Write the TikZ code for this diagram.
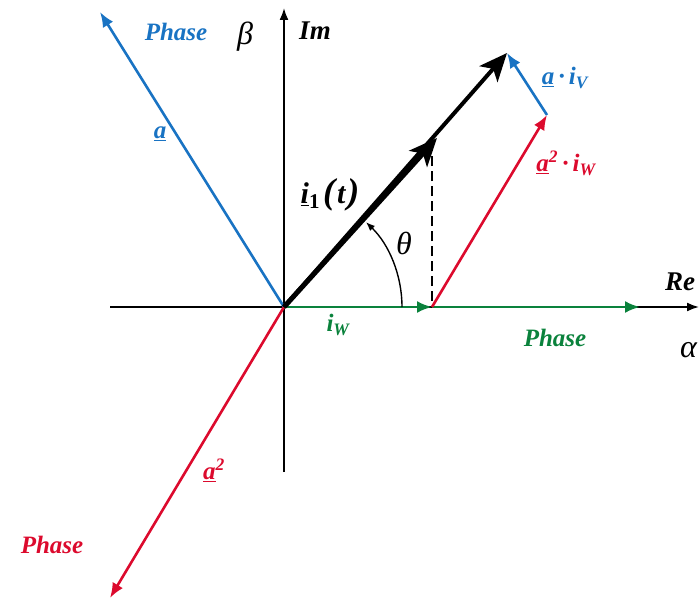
\documentclass[tikz,border=0pt]{standalone}
\usepackage{fontspec}
\setmainfont{Liberation Serif}
\usetikzlibrary{arrows.meta}
\definecolor{pblue}{RGB}{25,115,195}
\definecolor{pred}{RGB}{220,10,45}
\definecolor{pgreen}{RGB}{10,130,60}
\tikzset{
  lbl/.style={font=\fontsize{25}{27}\selectfont\bfseries\itshape, inner sep=1pt},
  glbl/.style={font=\fontsize{32}{34}\selectfont\itshape, inner sep=1pt},
  axis/.style={line width=1.8pt, -{Latex[length=12pt,width=9pt]}},
  phase/.style={line width=2.6pt, -{Latex[length=15pt,width=12pt]}},
  res/.style={line width=5pt, -{Stealth[length=28pt,width=24pt,inset=7pt]}},
}
\begin{document}
\begin{tikzpicture}[x=1pt,y=-1pt]
\useasboundingbox (0,0) rectangle (699,602);
\coordinate (O) at (284,307);
\coordinate (xl) at (110,307);
\coordinate (xr) at (699,307);
\coordinate (yb) at (284,472);
\coordinate (yt) at (284,8);
\coordinate (B) at (100,12);
\coordinate (R) at (110,598);
\coordinate (W) at (432,307);
\coordinate (G) at (640,307);
\coordinate (M) at (437,138);
\coordinate (T) at (507,53);
\coordinate (RT) at (547,115);
\coordinate (Wb) at (432,301);
\coordinate (Mb) at (432,150);
% axes
\draw[axis] (xl) -- (xr);
\draw[axis] (yb) -- (yt);
% phases
\draw[phase, pblue] (O) -- (B);
\draw[phase, pred] (O) -- (R);
\draw[phase, pgreen] (O) -- (W);
\draw[phase, pgreen] (W) -- (G);
% dashed projection
\draw[line width=2.4pt, dash pattern=on 10pt off 5pt] (Wb) -- (Mb);
% resultant
\draw[res, line width=4pt] (O) -- (T);
\draw[res] (O) -- (M);
% components
\draw[phase, pred] (W) -- (RT);
\draw[phase, pblue] (RT) -- (T);
% angle
\draw[line width=1.4pt, -{Latex[length=9pt,width=7pt]}] (402,307) arc[start angle=0, end angle=-46, radius=118];
% labels
\node[lbl, pblue] (pb) at (176,32) {Phase};
\node[glbl] (beta) at (245,37) {β};
\node[lbl, font=\fontsize{27}{29}\selectfont\bfseries\itshape] (im) at (315,31) {Im};
\node[lbl, pblue] (a1) at (160,134) {\underline{a}};
\node[lbl, font=\fontsize{30}{32}\selectfont\bfseries\itshape] (i1) at (330,195) {\underline{i}\textsubscript{\upshape 1}\hspace{3pt}{\fontsize{36}{38}\selectfont(}\hspace{2pt}t\hspace{2pt}{\fontsize{36}{38}\selectfont)}};
\node[glbl] (th) at (404,243) {θ};
\node[lbl, pblue] (ai) at (565,78) {\underline{a}\,·\,i\textsubscript{V}};
\node[lbl, pred] (a2i) at (566,163) {\underline{a}\textsuperscript{2}\,·\,i\textsubscript{W}};
\node[lbl, pgreen] (iw) at (338,325) {i\textsubscript{W}};
\node[lbl, pgreen] (pg) at (555,338) {Phase};
\node[lbl, font=\fontsize{27}{29}\selectfont\bfseries\itshape, anchor=west] (re) at (664,282) {Re};
\node[glbl, anchor=west] (al) at (679,350) {α};
\node[lbl, pred] (a2) at (214,470) {\underline{a}\textsuperscript{2}};
\node[lbl, pred] (pr) at (52,545) {Phase};
\end{tikzpicture}
\end{document}
